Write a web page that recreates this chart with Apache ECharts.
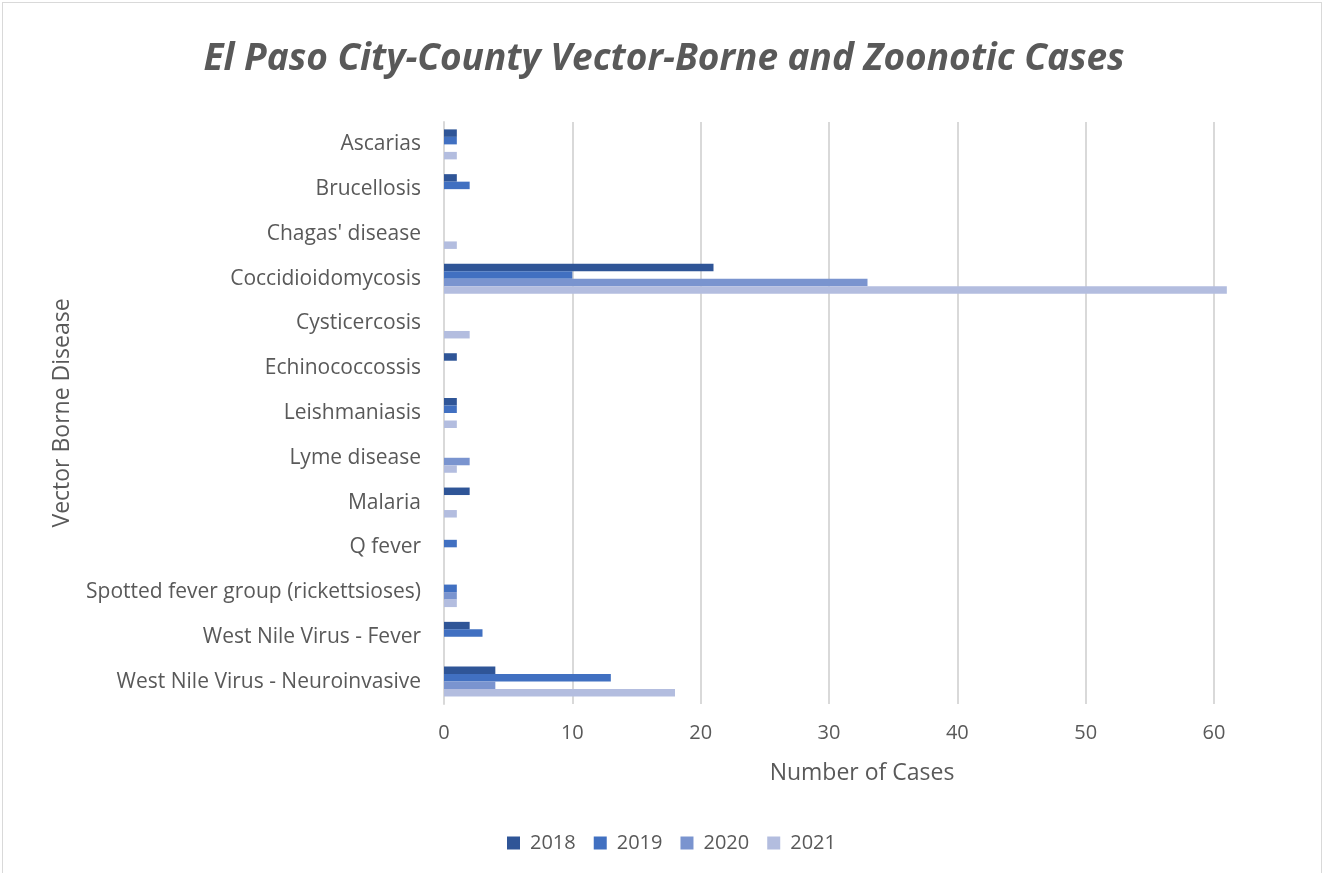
<!DOCTYPE html>
<html><head><meta charset="utf-8">
<script src="https://cdn.jsdelivr.net/npm/echarts@6/dist/echarts.min.js"></script>
<style>
html,body{margin:0;padding:0;background:#fff;}
#frame{position:absolute;left:2px;top:2px;width:1320px;height:880px;border:1px solid #d9d9d9;box-sizing:border-box;}
#c{position:absolute;left:0;top:0;width:1328px;height:873px;}
</style></head>
<body><div id="frame"></div><div id="c"></div>
<script>
const categories = ["Ascarias","Brucellosis","Chagas' disease","Coccidioidomycosis","Cysticercosis","Echinococcossis","Leishmaniasis","Lyme disease","Malaria","Q fever","Spotted fever group (rickettsioses)","West Nile Virus - Fever","West Nile Virus - Neuroinvasive"];
const years = ["2018","2019","2020","2021"];
const v2018 = [1,1,0,21,0,1,1,0,2,0,0,2,4];
const v2019 = [1,2,0,10,0,0,1,0,0,1,1,3,13];
const v2020 = [0,0,0,33,0,0,0,2,0,0,1,0,4];
const v2021 = [1,0,1,61,2,0,1,1,1,0,1,0,18];
const xTicks = [0,10,20,30,40,50,60];
const colors = ['#2f5597','#4170c1','#7a94cf','#b3bddf'];
const font = '"Open Sans", sans-serif';
const txt = '#595959';
const chart = echarts.init(document.getElementById('c'));
const vals = [v2018,v2019,v2020,v2021];
chart.setOption({
  animation:false,
  title:{text:'El Paso City-County Vector-Borne and Zoonotic Cases',left:'center',top:36,
    textStyle:{fontFamily:font,fontSize:37,fontWeight:'bold',fontStyle:'italic',color:txt}},
  legend:{bottom:15,left:502,itemWidth:13,itemHeight:13,itemGap:18,icon:'rect',
    textStyle:{fontFamily:font,fontSize:20,color:txt,padding:[0,0,0,5]},data:years},
  grid:{left:444,right:114,top:122,bottom:169},
  xAxis:{type:'value',min:xTicks[0],max:xTicks[xTicks.length-1],interval:10,
    name:'Number of Cases',nameLocation:'middle',nameGap:58,
    nameTextStyle:{fontFamily:font,fontSize:23,color:txt,padding:[0,0,0,66]},
    axisLine:{show:false},axisTick:{show:false},
    axisLabel:{fontFamily:font,fontSize:20,color:txt,margin:19},
    splitLine:{lineStyle:{color:'#d9d9d9',width:2}}},
  yAxis:{type:'category',data:categories,inverse:true,
    name:'Vector Borne Disease',nameLocation:'middle',nameGap:370,
    nameTextStyle:{fontFamily:font,fontSize:23,color:txt},
    axisLine:{show:true,lineStyle:{color:'#d9d9d9',width:2}},axisTick:{show:false},
    axisLabel:{fontFamily:font,fontSize:21,color:txt,margin:23}},
  series: years.map((y,i)=>({name:y,type:'bar',data:vals[i],clip:false,
    barGap:'0%',barCategoryGap:'33%',
    itemStyle:{color:colors[i]}}))
});
</script></body></html>
